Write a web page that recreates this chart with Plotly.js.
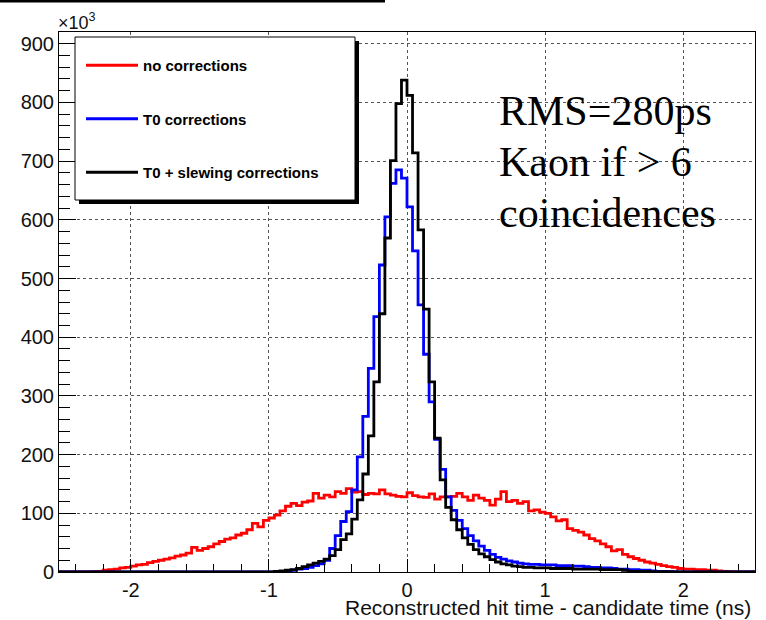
<!DOCTYPE html>
<html><head><meta charset="utf-8">
<script src="https://cdn.plot.ly/plotly-3.0.1.min.js"></script>
<style>html,body{margin:0;padding:0;background:#fff;} #plot{width:766px;height:620px;}</style>
</head><body><div id="plot"></div>
<script>
// Histogram binning (ns): 126 bins of 0.04 ns starting at -2.52
const binLow = -2.52;
const binWidth = 0.04;

// Entries per bin (x10^3)
const noCorrections = [
  0,0,0,0,0,0,0.5,1,3,4, 5,7,8,10,12,13,16,18,20,22,
  24,27,29,32,42,37,40,43,48,52, 56,58,63,66,72,83,77,88,92,97,
  104,112,117,113,119,121,134,126,131,128, 137,134,142,136,137,132,134,133,140,133,
  131,129,128,135,130,128,127,133,124,128, 128,129,134,128,122,131,126,122,114,124,
  137,120,122,117,120,104,106,102,100,94, 87,89,74,71,68,63,57,53,48,43,
  36,38,30,26,23,20,17,15,13,11, 9,8,6,5,5,4,4,3,3,2,
  1,0.5,0,0,0,0
];
const t0Corrections = [
  0,0,0,0,0,0,0,0,0,0, 0,0,0,0,0,0,0,0,0,0,
  0,0,0,0,0,0,0,0,0,0, 0,0,0,0,0,0,0,0,0,0.5,
  1,2,3,5,6,8,11,14,20,40, 62,86,103,140,196,265,347,435,523,605,
  662,685,671,622,547,455,371,290,226,175, 128,105,88,74,62,53,44,37,30,25,
  22,19,17,15,14,13,13,12,12,12, 11,11,11,10,10,9,8,8,7,7,
  6,5,5,4,4,3,3,2,1,1, 0.5,0.5,0,0,0,0,0,0,0,0,
  0,0,0,0,0,0
];
const t0SlewingCorrections = [
  0,0,0,0,0,0,0,0,0,0, 0,0,0,0,0,0,0,0,0,0,
  0,0,0,0,0,0,0,0,0,0, 0,0,0,0,0,0,0,0,0,1,
  2,3,4,6,9,12,15,18,22,28, 38,55,65,90,123,167,232,324,440,569,
  701,798,838,812,714,583,448,324,228,157, 110,89,72,58,47,38,31,26,21,17,
  14,12,10,9,8,8,7,7,7,6, 6,6,6,5,5,5,5,5,4,4,
  4,4,3,1,1,1,1,0.5,0.5,0.5, 0.5,0.3,0.3,0,0,0,0,0,0,0,
  0,0,0,0,0,0
];

const seriesNames = ['no corrections', 'T0 corrections', 'T0 + slewing corrections'];
const seriesColors = ['#ff0000', '#0000ff', '#000000'];
const xTickVals = [-2, -1, 0, 1, 2];
const xTickText = ['-2', '-1', '0', '1', '2'];
const yTickVals = [0, 100, 200, 300, 400, 500, 600, 700, 800, 900];
const yTickText = ['0', '100', '200', '300', '400', '500', '600', '700', '800', '900'];
const noteLines = ['RMS=280ps', 'Kaon if > 6', 'coincidences'];
const xTitle = 'Reconstructed hit time - candidate time (ns)';
const yScaleLabel = '\u00d710<sup>3</sup>';

function binEdges(n) {
  const e = [];
  for (let i = 0; i <= n; i++) e.push(+(binLow + i * binWidth).toFixed(4));
  return e;
}
function stepTrace(vals, name, color, group) {
  return {
    type: 'scatter', mode: 'lines', name: name,
    x: binEdges(vals.length), y: vals.concat([vals[vals.length - 1]]),
    line: {shape: 'hv', color: color, width: 2.8},
    legendgroup: group, hoverinfo: 'skip'
  };
}

// pixel helpers for decoration placement (plot area 59..755 x 32..572)
const L = 59, R = 755, T = 32, B = 572;
const px = v => (v - L) / (R - L);
const py = v => (B - v) / (B - T);

const traces = [
  stepTrace(noCorrections, seriesNames[0], seriesColors[0], 'g1'),
  stepTrace(t0Corrections, seriesNames[1], seriesColors[1], 'g2'),
  stepTrace(t0SlewingCorrections, seriesNames[2], seriesColors[2], 'g3')
];

const sans = 'Liberation Sans, Arial, Helvetica, sans-serif';
const serif = 'Liberation Serif, Times New Roman, serif';
const noteY = [111, 162, 213];

const annotations = noteLines.map((t, i) => ({
  xref: 'paper', yref: 'paper', x: px(497), y: py(noteY[i]), xanchor: 'left', yanchor: 'middle',
  align: 'left', showarrow: false, text: t,
  font: {family: serif, size: 42, color: '#000'}
}));
annotations.push(
  {xref: 'paper', yref: 'paper', x: px(753), y: py(607), xanchor: 'right', yanchor: 'middle',
   showarrow: false, text: xTitle, font: {family: sans, size: 21, color: '#111'}},
  {xref: 'paper', yref: 'paper', x: px(56), y: py(21), xanchor: 'left', yanchor: 'middle',
   showarrow: false, text: yScaleLabel, font: {family: sans, size: 18, color: '#111'}}
);

const layout = {
  width: 766, height: 620,
  margin: {l: L, r: 766 - R, t: T, b: 620 - B},
  paper_bgcolor: '#ffffff', plot_bgcolor: '#ffffff',
  showlegend: true,
  legend: {
    x: px(81), y: py(49), xanchor: 'left', yanchor: 'top',
    bgcolor: 'rgba(0,0,0,0)', borderwidth: 0,
    font: {family: sans, size: 15, color: '#000', weight: 'bold'},
    tracegroupgap: 31, itemwidth: 52, traceorder: 'grouped'
  },
  xaxis: {
    range: [-2.52, 2.52], tickmode: 'array', tickvals: xTickVals, ticktext: xTickText,
    ticks: 'inside', ticklen: 13, tickwidth: 1, tickcolor: '#000',
    minor: {ticks: 'inside', ticklen: 8, tickwidth: 1, tickcolor: '#000', tickmode: 'linear', tick0: 0, dtick: 0.2, showgrid: false},
    showline: true, linecolor: '#000', linewidth: 1, mirror: true,
    showgrid: true, gridcolor: '#555', gridwidth: 1, griddash: 'dot', zeroline: false,
    tickfont: {family: sans, size: 20, color: '#111'}, ticklabelstandoff: 0
  },
  yaxis: {
    range: [0, 920], tickmode: 'array', tickvals: yTickVals, ticktext: yTickText,
    ticks: 'inside', ticklen: 17, tickwidth: 1, tickcolor: '#000',
    minor: {ticks: 'inside', ticklen: 11, tickwidth: 1, tickcolor: '#000', tickmode: 'linear', tick0: 0, dtick: 20, showgrid: false},
    showline: true, linecolor: '#000', linewidth: 1, mirror: true,
    showgrid: true, gridcolor: '#555', gridwidth: 1, griddash: 'dot', zeroline: false,
    tickfont: {family: sans, size: 20, color: '#111'}
  },
  shapes: [
    {type: 'rect', xref: 'paper', yref: 'paper', x0: px(79), x1: px(359), y0: py(204), y1: py(41),
     fillcolor: '#000', line: {width: 0}, layer: 'above'},
    {type: 'rect', xref: 'paper', yref: 'paper', x0: px(75), x1: px(355), y0: py(200), y1: py(37),
     fillcolor: '#fff', line: {color: '#000', width: 1}, layer: 'above'},
    {type: 'line', xref: 'paper', yref: 'paper', x0: px(0), x1: px(385), y0: py(1), y1: py(1),
     line: {color: '#000', width: 3}}
  ],
  annotations: annotations
};

Plotly.newPlot('plot', traces, layout, {staticPlot: true, displayModeBar: false});
</script>
</body></html>
